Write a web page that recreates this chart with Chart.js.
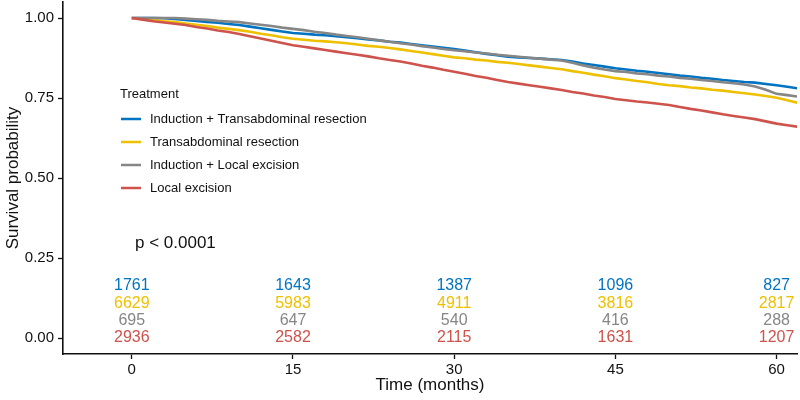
<!DOCTYPE html>
<html>
<head>
<meta charset="utf-8">
<script src="https://cdn.jsdelivr.net/npm/chart.js@4.4.1/dist/chart.umd.min.js"></script>
<style>
  html, body { margin: 0; padding: 0; background: #fff; }
  #wrap { width: 800px; height: 400px; }
</style>
</head>
<body>
<div id="wrap"><canvas id="km"></canvas></div>
<script>
// survival curves
const months = [0,1,2,3,4,5,6,7,8,9,10,11,12,13,14,15,16,17,18,19,20,21,22,23,24,25,26,27,28,29,30,
  31,32,33,34,35,36,37,38,39,40,41,42,43,44,45,46,47,48,49,50,51,52,53,54,55,56,57,58,59,60,61,62];

const survIndTR = [1.000,1.000,1.000,0.999,0.997,0.994,0.991,0.988,0.985,0.981,0.978,0.973,0.968,0.963,0.958,0.953,
  0.951,0.948,0.946,0.943,0.940,0.937,0.933,0.930,0.926,0.923,0.919,0.915,0.911,0.907,0.903,
  0.898,0.893,0.888,0.884,0.879,0.877,0.875,0.873,0.871,0.869,0.864,0.858,0.853,0.848,0.843,
  0.839,0.835,0.832,0.828,0.824,0.820,0.817,0.813,0.810,0.806,0.803,0.800,0.798,0.794,0.790,0.785,0.780];
const survTR = [1.000,0.997,0.994,0.990,0.987,0.983,0.979,0.975,0.970,0.966,0.962,0.957,0.951,0.946,0.940,0.935,
  0.932,0.929,0.927,0.924,0.921,0.917,0.913,0.910,0.906,0.902,0.897,0.892,0.887,0.882,0.877,
  0.874,0.870,0.867,0.863,0.860,0.856,0.852,0.848,0.844,0.840,0.834,0.829,0.823,0.818,0.812,
  0.808,0.803,0.799,0.794,0.790,0.787,0.783,0.780,0.776,0.773,0.769,0.765,0.761,0.756,0.751,0.743,0.735];
const survIndLE = [1.000,1.000,1.000,1.000,1.000,0.998,0.996,0.994,0.991,0.989,0.987,0.983,0.979,0.975,0.970,0.966,
  0.962,0.957,0.953,0.948,0.944,0.940,0.935,0.930,0.926,0.921,0.917,0.912,0.908,0.903,0.899,
  0.896,0.892,0.889,0.885,0.882,0.879,0.876,0.873,0.870,0.867,0.860,0.852,0.845,0.839,0.834,
  0.831,0.827,0.824,0.820,0.817,0.813,0.810,0.806,0.803,0.799,0.796,0.792,0.786,0.776,0.763,0.759,0.754];
const survLE = [1.000,0.995,0.990,0.986,0.982,0.978,0.972,0.967,0.961,0.956,0.950,0.943,0.936,0.929,0.922,0.915,
  0.910,0.905,0.900,0.895,0.890,0.885,0.880,0.874,0.869,0.864,0.858,0.851,0.845,0.838,0.832,
  0.826,0.819,0.813,0.806,0.800,0.795,0.790,0.785,0.780,0.775,0.769,0.764,0.758,0.753,0.747,
  0.743,0.739,0.736,0.732,0.728,0.722,0.716,0.711,0.705,0.699,0.694,0.689,0.684,0.677,0.670,0.665,0.660];

const groups = ['Induction + Transabdominal resection', 'Transabdominal resection',
  'Induction + Local excision', 'Local excision'];
const colors = ['#0073C2', '#EFC000', '#868686', '#CD534C'];

// numbers at risk
const riskTimes = [0, 15, 30, 45, 60];
const riskIndTR = [1761, 1643, 1387, 1096, 827];
const riskTR = [6629, 5983, 4911, 3816, 2817];
const riskIndLE = [695, 647, 540, 416, 288];
const riskLE = [2936, 2582, 2115, 1631, 1207];

const xTicks = [0, 15, 30, 45, 60];
const yTicks = [0, 0.25, 0.5, 0.75, 1];
const pText = 'p < 0.0001';

const FONT = '"Liberation Sans", Arial, Helvetica, sans-serif';
const series = [survIndTR, survTR, survIndLE, survLE];
const risks = [riskIndTR, riskTR, riskIndLE, riskLE];

// extra text: p value, legend box, risk numbers
const overlay = {
  id: 'overlay',
  afterDatasetsDraw(chart) {
    const ctx = chart.ctx;
    const xs = chart.scales.x, ys = chart.scales.y;
    ctx.save();
    // risk table rows
    const rowY = [0.163, 0.109, 0.054, 0];
    ctx.font = '16px ' + FONT;
    ctx.textAlign = 'center';
    ctx.textBaseline = 'middle';
    risks.forEach((row, i) => {
      ctx.fillStyle = colors[i];
      row.forEach((n, j) => {
        ctx.fillText(String(n), xs.getPixelForValue(riskTimes[j]), ys.getPixelForValue(rowY[i]));
      });
    });
    // p value
    ctx.fillStyle = '#111';
    ctx.textAlign = 'left';
    ctx.font = '17px ' + FONT;
    ctx.fillText(pText, xs.getPixelForValue(0.3), ys.getPixelForValue(0.297));
    // legend
    ctx.font = '13px ' + FONT;
    ctx.fillText('Treatment', 120, 94);
    groups.forEach((g, i) => {
      const y = 119 + i * 23;
      ctx.strokeStyle = colors[i];
      ctx.lineWidth = 2.5;
      ctx.beginPath();
      ctx.moveTo(121, y);
      ctx.lineTo(141, y);
      ctx.stroke();
      ctx.fillStyle = '#111';
      ctx.fillText(g, 150, y);
    });
    ctx.restore();
  }
};

new Chart(document.getElementById('km'), {
  type: 'line',
  data: {
    datasets: series.map((s, i) => ({
      label: groups[i],
      data: months.map((m, k) => ({ x: m, y: s[k] })),
      borderColor: colors[i],
      borderWidth: 2.6,
      pointRadius: 0,
      tension: 0,
      fill: false,
      order: 4 - i
    }))
  },
  options: {
    responsive: true,
    maintainAspectRatio: false,
    animation: false,
    layout: { padding: { top: 2, right: 3, left: 0, bottom: 0 } },
    plugins: { legend: { display: false }, tooltip: { enabled: false } },
    scales: {
      x: {
        type: 'linear',
        min: -6.4,
        max: 61.9,
        afterBuildTicks: s => { s.ticks = xTicks.map(v => ({ value: v })); },
        afterFit: s => { s.height = 46; s.paddingLeft = 0; s.paddingRight = 0; },
        border: { display: true, color: '#111', width: 1.6 },
        grid: { drawOnChartArea: false, drawTicks: true, tickLength: 5, color: '#111', tickWidth: 1.3 },
        ticks: { color: '#111', font: { family: FONT, size: 15 }, padding: 2, maxRotation: 0 },
        title: { display: true, text: 'Time (months)', color: '#111',
          font: { family: FONT, size: 17 }, padding: { top: 0, bottom: 4 } }
      },
      y: {
        type: 'linear',
        min: -0.05,
        max: 1.05,
        afterBuildTicks: s => { s.ticks = yTicks.map(v => ({ value: v })); },
        afterFit: s => { s.width = 63; s.paddingTop = 0; s.paddingBottom = 0; },
        border: { display: true, color: '#111', width: 1.6 },
        grid: { drawOnChartArea: false, drawTicks: true, tickLength: 5, color: '#111', tickWidth: 1.3 },
        ticks: { color: '#111', font: { family: FONT, size: 15 }, padding: 4,
          callback: v => v.toFixed(2) },
        title: { display: true, text: 'Survival probability', color: '#111',
          font: { family: FONT, size: 17 }, padding: { top: 3, bottom: 0 } }
      }
    }
  },
  plugins: [overlay]
});
</script>
</body>
</html>
